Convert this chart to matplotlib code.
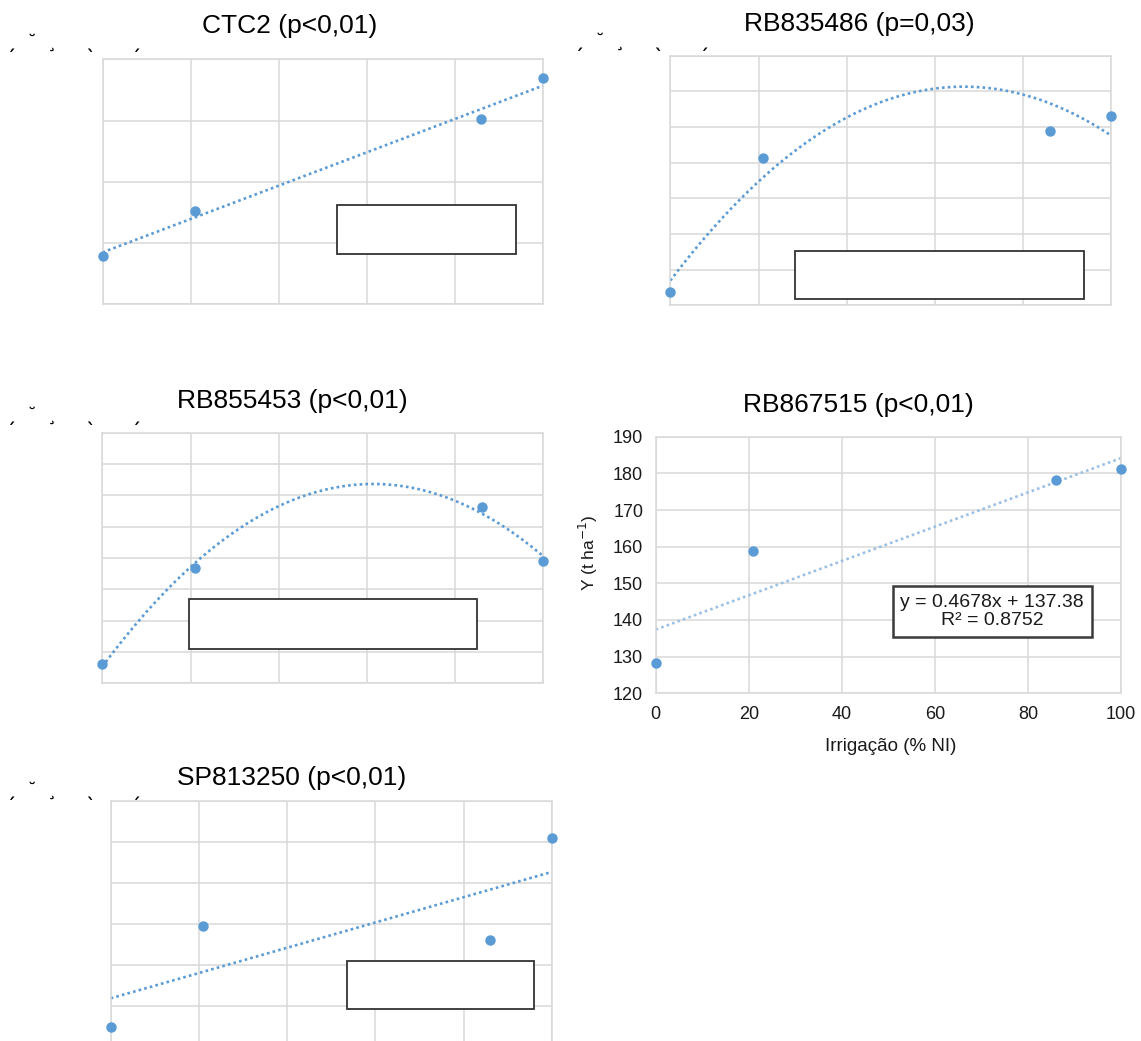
import numpy as np
import matplotlib
matplotlib.use("Agg")
from matplotlib import pyplot as plt
from matplotlib.patches import Rectangle

plt.rcParams['font.family'] = ['Liberation Sans', 'DejaVu Sans']

W, H = 1141, 1041

# irrigation levels (% NI)
irrig = [0, 21, 86, 100]

# yield per variety (t/ha)
ctc2 = [115.8, 130.3, 160.6, 173.8]
rb835486 = [103.6, 141.4, 149.0, 153.0]
rb855453 = [106.2, 136.9, 156.3, 139.1]
rb867515 = [128.3, 158.8, 178.2, 181.3]
sp813250 = [124.8, 149.5, 146.0, 171.0]

titles = ["CTC2 (p<0,01)", "RB835486 (p=0,03)", "RB855453 (p<0,01)",
          "RB867515 (p<0,01)", "SP813250 (p<0,01)"]

# RB867515 linear fit as reported
eq_slope, eq_intercept, eq_r2 = 0.4678, 137.38, 0.8752

xticks = [0, 20, 40, 60, 80, 100]
blue = '#5b9bd5'
grid_c = '#d9d9d9'

fig = plt.figure(figsize=(W / 100, H / 100), dpi=100)


def place(x0, y0, x1, y1):
    # pixel box (top-left origin) -> figure axes
    return fig.add_axes([x0 / W, 1 - y1 / H, (x1 - x0) / W, (y1 - y0) / H])


def panel(box, y, deg, ylim, ystep, rect, line_c=blue, labels=False):
    ax = place(*box)
    ax.set_xlim(0, 100)
    ax.set_ylim(*ylim)
    ax.set_xticks(xticks)
    ax.set_yticks(np.arange(ylim[0], ylim[1] + 0.1, ystep))
    ax.grid(True, color=grid_c, lw=1.1)
    ax.set_axisbelow(True)
    for s in ax.spines.values():
        s.set_color(grid_c)
        s.set_linewidth(1.1)
    ax.tick_params(length=0)
    if not labels:
        ax.set_xticklabels([])
        ax.set_yticklabels([])
    xs = np.linspace(0, 100, 200)
    if deg is None:
        ys = eq_slope * xs + eq_intercept
    else:
        ys = np.polyval(np.polyfit(irrig, y, deg), xs)
    ax.plot(xs, ys, color=line_c, lw=1.9, ls=(0, (1, 1.2)), clip_on=False)
    ax.plot(irrig, y, 'o', color=blue, ms=6.5, clip_on=False, zorder=5)
    ax.add_patch(Rectangle((rect[0], rect[1]), rect[2], rect[3], transform=ax.transAxes,
                           facecolor='white', edgecolor='#333333', lw=1.3, zorder=6))
    return ax


def stray_marks(x0, y0):
    # leftover glyphs of the axis caption
    for dx, ch in zip([2, 24, 44, 82, 127], ['ˏ', '˘', '¸', 'ˎ', 'ˏ']):
        fig.text((x0 + dx) / W, 1 - y0 / H, ch, fontsize=12, ha='center', va='center',
                 family='DejaVu Sans', fontweight='bold', color='black')


panel((102.5, 59.5, 543, 304), ctc2, 1, (100, 180), 20, (0.533, 0.203, 0.405, 0.202))
panel((670.3, 55.7, 1111.3, 305.3), rb835486, 2, (100, 170), 10, (0.283, 0.025, 0.656, 0.194))
panel((102.3, 432.7, 543.3, 683.3), rb855453, 2, (100, 180), 10, (0.196, 0.138, 0.654, 0.198))
ax4 = panel((655.7, 436.7, 1121, 693.3), rb867515, None, (120, 190), 10,
            (0.509, 0.218, 0.428, 0.201), line_c='#9cc0e4', labels=True)
panel((110.7, 801, 551.7, 1047), sp813250, 1, (120, 180), 10, (0.535, 0.153, 0.425, 0.198))

ax4.patches[-1].set_linewidth(1.8)
ax4.patches[-1].set_edgecolor('#3a3a3a')
ax4.tick_params(labelsize=13, pad=9, colors='#1a1a1a')
ax4.set_xlabel('Irrigação (% NI)', fontsize=13.5, color='#1a1a1a', va='top')
ax4.xaxis.set_label_coords(0.505, -0.174)
ax4.set_ylabel('Y (t ha$^{-1}$)', fontsize=12.5, color='#1a1a1a')
ax4.yaxis.set_label_coords(-0.12, 0.547)
ax4.text(0.723, 0.318, 'y = %.4fx + %.2f\nR² = %.4f' % (eq_slope, eq_intercept, eq_r2),
         transform=ax4.transAxes, ha='center', va='center', fontsize=14,
         color='#1a1a1a', zorder=7, linespacing=1.05)

# titles
for (cx, cy), t in zip([(290, 26), (859, 24), (292, 401), (858, 405), (292, 778)], titles):
    fig.text(cx / W, 1 - cy / H, t, fontsize=19, ha='center', va='center')

for x0, y0 in [(8, 43), (576, 42), (8, 416), (8, 791)]:
    stray_marks(x0, y0)

fig.savefig('out.png', dpi=100, facecolor='white')
